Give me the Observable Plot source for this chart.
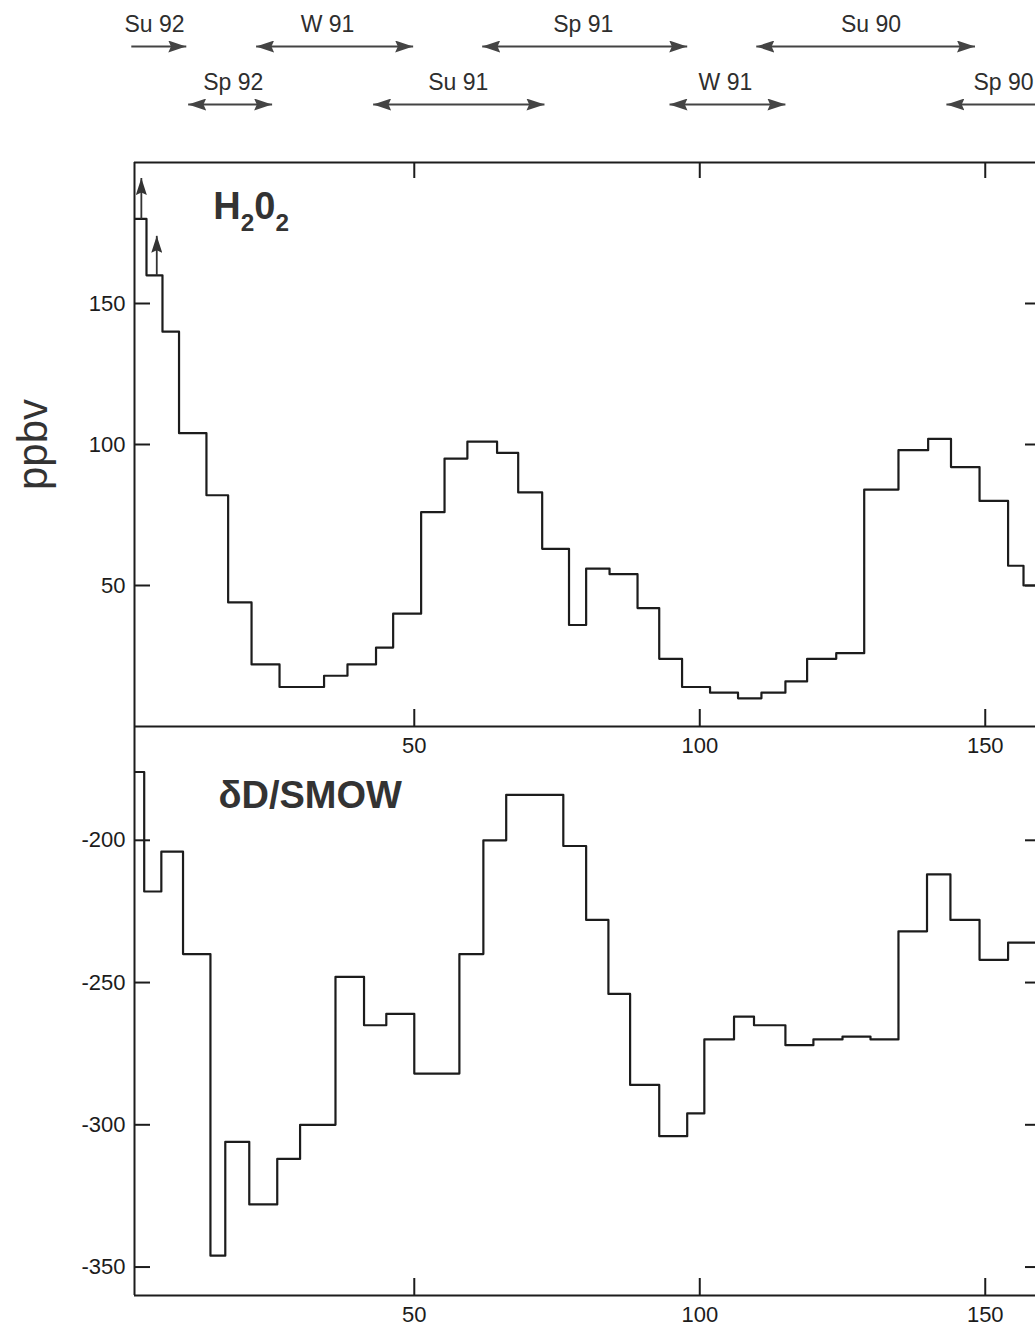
<!DOCTYPE html>
<html>
<head>
<meta charset="utf-8">
<script src="https://cdn.jsdelivr.net/npm/d3@7"></script>
<script src="https://cdn.jsdelivr.net/npm/@observablehq/plot@0.6"></script>
<style>
  html, body { margin: 0; padding: 0; background: #fff; overflow: hidden; }
  #fig { position: relative; width: 1035px; height: 1327px; }
</style>
</head>
<body>
<div id="fig"></div>
<script>
// ---------------- data ----------------
// depth axis (bin edges) and H2O2 (ppbv) bin values
const h2o2Edges = [1.0, 3.1, 5.9, 8.8, 13.6, 17.4, 21.5, 26.4, 34.2, 38.3,
  43.3, 46.3, 51.2, 55.3, 59.3, 64.5, 68.2, 72.4, 77.1, 80.1,
  84.2, 89.1, 92.9, 96.9, 101.8, 106.7, 110.8, 115.0, 118.8, 123.9,
  128.8, 134.8, 140.0, 144.0, 149.0, 154.0, 156.7, 162];
const h2o2Values = [180, 160, 140, 104, 82, 44, 22, 14, 18, 22,
  28, 40, 76, 95, 101, 97, 83, 63, 36, 56,
  54, 42, 24, 14, 12, 10, 12, 16, 24, 26,
  84, 98, 102, 92, 80, 57, 50];
// off-scale markers (arrows) on the first two H2O2 bins
const h2o2ArrowX = [2.2, 4.9];
const h2o2ArrowFrom = [180, 160];
const h2o2ArrowTo = [194.5, 174];

// δD/SMOW bin edges and values
const dDEdges = [1.0, 2.7, 5.7, 9.5, 14.3, 16.9, 21.1, 26.0, 30.0, 36.2,
  41.2, 45.1, 50.0, 57.9, 62.1, 66.1, 76.1, 80.1, 84.0, 87.8,
  92.9, 97.8, 100.8, 106.0, 109.5, 115.0, 119.9, 125.0, 129.9, 134.8,
  139.8, 143.9, 149.0, 154.0, 162];
const dDValues = [-176, -218, -204, -240, -346, -306, -328, -312, -300, -248,
  -265, -261, -282, -240, -200, -184, -202, -228, -254, -286,
  -304, -296, -270, -262, -265, -272, -270, -269, -270, -232,
  -212, -228, -242, -236];

// ticks
const xTicks = [50, 100, 150];
const h2o2Ticks = [50, 100, 150];
const dDTicks = [-200, -250, -300, -350];

// season bands along the top
const seasonLabels = ["Su 92", "W 91", "Sp 91", "Su 90", "Sp 92", "Su 91", "W 91", "Sp 90"];
const seasonRow = [1, 1, 1, 1, 2, 2, 2, 2];
const seasonLabelX = [4.5, 34.8, 79.6, 130.0, 18.3, 57.7, 104.5, 153.2];
const seasonStart = [0.44, 22.3, 61.9, 109.9, 10.4, 42.8, 94.7, 143.2];
const seasonEnd = [10.07, 49.8, 97.8, 148.2, 25.1, 72.8, 115.0, 166];
const seasonHeads = ["end", "both", "both", "both", "both", "both", "both", "start"];

// panel titles
const h2o2Title = "H202";
const h2o2TitleX = 14.8, h2o2TitleY = 184.2;
const dDTitle = "δD/SMOW";
const dDTitleX = 15.7, dDTitleY = -184.2;
const yLabel = "ppbv";

// ---------------- helpers ----------------
const xDomain = [1, 158.8];
const FONT = "'Liberation Sans', Arial, Helvetica, sans-serif";
const INK = "#1c1c1c";
const TICKFONT = 22;
function steps(edges, values) {
  const pts = values.map((v, i) => ({x: edges[i], y: v}));
  pts.push({x: edges[values.length], y: values[values.length - 1]});
  return pts;
}
function baseStyle(top) {
  return `position:absolute; left:0; top:${top}px; background:transparent; overflow:visible; font-family:${FONT}; font-size:${TICKFONT}px; color:${INK};`;
}
function addHeads(svg, heads, color, len, wid) {
  const id = "head" + Math.random().toString(36).slice(2);
  const defs = d3.select(svg).append("defs");
  defs.append("marker")
    .attr("id", id)
    .attr("viewBox", `0 0 ${len} ${wid}`)
    .attr("refX", len).attr("refY", wid / 2)
    .attr("markerWidth", len).attr("markerHeight", wid)
    .attr("markerUnits", "userSpaceOnUse")
    .attr("orient", "auto-start-reverse")
    .append("path")
    .attr("d", `M0,0L${len},${wid / 2}L0,${wid}L${len * 0.15},${wid / 2}Z`)
    .attr("fill", color);
  d3.select(svg).selectAll('g[aria-label="link"] path').each(function (_, i) {
    const h = heads[i];
    if (h === "both" || h === "start") this.setAttribute("marker-start", `url(#${id})`);
    if (h === "both" || h === "end") this.setAttribute("marker-end", `url(#${id})`);
  });
}
function commonAxes(yTicks) {
  return [
    Plot.axisY({anchor: "left", ticks: yTicks, tickSize: 0, tickPadding: 9, fontSize: TICKFONT, label: null, tickFormat: d => String(d)}),
    Plot.axisY({anchor: "left", ticks: yTicks, tickSize: -16, strokeWidth: 2, label: null, tickFormat: () => ""}),
    Plot.axisY({anchor: "right", ticks: yTicks, tickSize: -11, strokeWidth: 2, label: null, tickFormat: () => ""}),
    Plot.axisX({anchor: "bottom", ticks: xTicks, tickSize: 0, tickPadding: 11, fontSize: TICKFONT, label: null, tickFormat: d => String(d)}),
    Plot.axisX({anchor: "bottom", ticks: xTicks, tickSize: -17, strokeWidth: 2, label: null, tickFormat: () => ""})
  ];
}

const fig = document.getElementById("fig");

// ---------------- header: season arrows ----------------
const seasons = seasonLabels.map((s, i) => ({
  label: s, row: seasonRow[i], lx: seasonLabelX[i], x1: seasonStart[i], x2: seasonEnd[i], head: seasonHeads[i]
}));
const header = Plot.plot({
  width: 1035, height: 130,
  marginTop: 0, marginBottom: 0, marginLeft: 134, marginRight: 0,
  style: baseStyle(0),
  x: {domain: xDomain, axis: null},
  y: {domain: [1, 2], range: [46, 104], axis: null},
  marks: [
    Plot.link(seasons, {x1: "x1", x2: "x2", y1: "row", y2: "row", stroke: "#444", strokeWidth: 1.8}),
    Plot.text(seasons, {x: "lx", y: "row", text: "label", dy: -22, fontSize: 23, fill: "#2e2e2e", lineAnchor: "middle"})
  ]
});
addHeads(header, seasons.map(d => d.head), "#444", 18, 12);
fig.appendChild(header);

// ---------------- top panel: H2O2 ----------------
const arrows = h2o2ArrowX.map((x, i) => ({x, y1: h2o2ArrowFrom[i], y2: h2o2ArrowTo[i]}));
const topPanel = Plot.plot({
  width: 1035, height: 640,
  marginTop: 32, marginBottom: 44, marginLeft: 134, marginRight: 0,
  style: baseStyle(130),
  x: {domain: xDomain, label: null},
  y: {domain: [0, 200], label: null},
  marks: [
    Plot.ruleX([xDomain[0]], {stroke: INK, strokeWidth: 2}),
    Plot.ruleY([0], {stroke: INK, strokeWidth: 2}),
    Plot.ruleY([200], {stroke: INK, strokeWidth: 2}),
    ...commonAxes(h2o2Ticks),
    Plot.axisX({anchor: "top", ticks: xTicks, tickSize: -15, strokeWidth: 2, label: null, tickFormat: () => ""}),
    Plot.line(steps(h2o2Edges, h2o2Values), {x: "x", y: "y", curve: "step-after", stroke: INK, strokeWidth: 2.2, clip: true}),
    Plot.link(arrows, {x1: "x", x2: "x", y1: "y1", y2: "y2", stroke: "#333", strokeWidth: 1.8}),
    Plot.text([h2o2Title], {x: [h2o2TitleX], y: [h2o2TitleY], text: d => d, textAnchor: "start", lineAnchor: "middle", fontSize: 38, fontWeight: "bold", fill: "#333"}),
    Plot.text([yLabel], {frameAnchor: "left", dx: -101, rotate: -90, textAnchor: "middle", lineAnchor: "middle", text: d => d, fontSize: 42, fill: "#333"})
  ]
});
addHeads(topPanel, arrows.map(() => "end"), "#333", 17, 11);
// subscripts in the H2O2 title
d3.select(topPanel).selectAll('g[aria-label="text"] text').each(function () {
  if (this.textContent === h2o2Title) {
    const t = d3.select(this);
    t.text(null);
    const parts = [["H", 0, null], ["2", 0.3, "64%"], ["0", -0.3, null], ["2", 0.3, "64%"]];
    parts.forEach(([s, shift, size]) => {
      const ts = t.append("tspan").text(s);
      if (size) ts.attr("font-size", size);
      if (shift !== 0) ts.attr("dy", (size ? shift / 0.64 : shift) + "em");
    });
  }
});
fig.appendChild(topPanel);

// ---------------- bottom panel: δD ----------------
const bottomPanel = Plot.plot({
  width: 1035, height: 627,
  marginTop: 26, marginBottom: 32, marginLeft: 134, marginRight: 0,
  style: baseStyle(700),
  x: {domain: xDomain, label: null},
  y: {domain: [-360, -160], label: null},
  marks: [
    Plot.ruleX([xDomain[0]], {stroke: INK, strokeWidth: 2}),
    Plot.ruleY([-360], {stroke: INK, strokeWidth: 2}),
    ...commonAxes(dDTicks),
    Plot.line(steps(dDEdges, dDValues), {x: "x", y: "y", curve: "step-after", stroke: INK, strokeWidth: 2.2, clip: true}),
    Plot.text([dDTitle], {x: [dDTitleX], y: [dDTitleY], text: d => d, textAnchor: "start", lineAnchor: "middle", fontSize: 38, fontWeight: "bold", fill: "#333"})
  ]
});
fig.appendChild(bottomPanel);
</script>
</body>
</html>
